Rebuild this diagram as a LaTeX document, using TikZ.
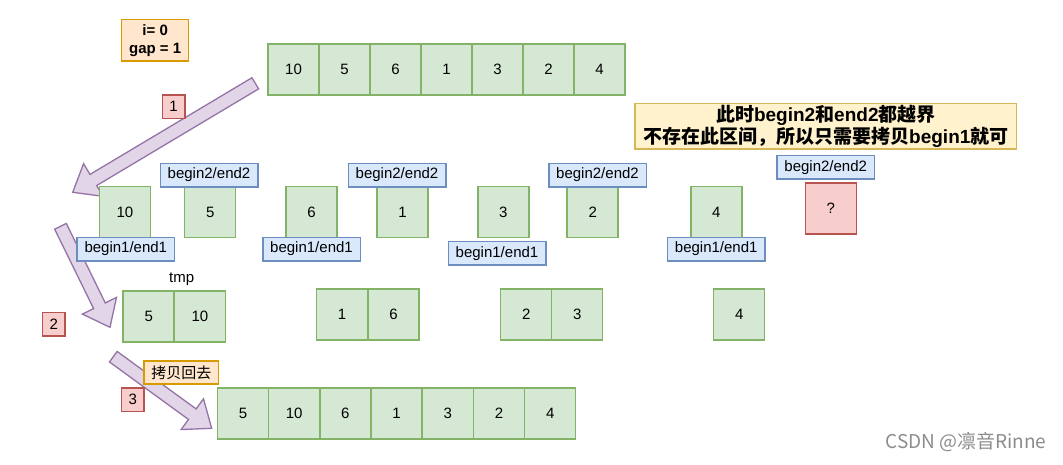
\documentclass[tikz,border=0pt]{standalone}
\usepackage{fontspec}
\setmainfont{Liberation Sans}
\newfontfamily\cjk{Noto Sans CJK SC}
\usetikzlibrary{calc}
\definecolor{gfill}{HTML}{D5E8D4}\definecolor{gline}{HTML}{82B366}
\definecolor{bfill}{HTML}{DAE8FC}\definecolor{bline}{HTML}{6C8EBF}
\definecolor{rfill}{HTML}{F8CECC}\definecolor{rline}{HTML}{B85450}
\definecolor{ofill}{HTML}{FFE6CC}\definecolor{oline}{HTML}{D79B00}
\definecolor{yfill}{HTML}{FFF2CC}\definecolor{yline}{HTML}{D6B656}
\definecolor{pfill}{HTML}{E1D5E7}\definecolor{pline}{HTML}{9673A6}
\tikzset{
  txt/.style={font=\fontsize{15}{18}\selectfont, text=black},
  cell/.style={txt, draw=gline, fill=gfill, line width=1.5pt, minimum width=51pt, minimum height=51pt, inner sep=0pt},
  lbl/.style={txt, draw=bline, fill=bfill, line width=1.5pt, minimum width=97.5pt, minimum height=23.5pt, inner sep=0pt},
  numtag/.style={txt, draw=rline, fill=rfill, line width=1.5pt, minimum width=22.5pt, minimum height=23.5pt, inner sep=0pt},
  note/.style={txt, draw=oline, fill=ofill, line width=1.5pt, inner sep=0pt, align=center},
  qcell/.style={cell, draw=rline, fill=rfill},
  flexarrow/.style={draw=pline, fill=pfill, line width=1.3pt, line join=miter},
}
\newcommand\blkarrow[2]{%
  \coordinate (#2-base) at ($(#2)!24pt!(#1)$);
  \draw[flexarrow] ($(#1)!6.5pt!90:(#2)$) -- ($(#2-base)!6.5pt!90:(#2)$) -- ($(#2-base)!19pt!90:(#2)$) -- (#2) -- ($(#2-base)!19pt!-90:(#2)$) -- ($(#2-base)!6.5pt!-90:(#2)$) -- ($(#1)!6.5pt!-90:(#2)$) -- cycle;}
\begin{document}
\begin{tikzpicture}[x=1pt,y=-1pt]
\useasboundingbox (0,0) rectangle (1063,464);
% arrows
\coordinate (a1s) at (255.3,83.3); \coordinate (a1e) at (72.7,192.3);
\coordinate (a2s) at (60.5,226.3); \coordinate (a2e) at (110,327.3);
\coordinate (a3s) at (113.3,356.7); \coordinate (a3e) at (211.7,428.3);
\blkarrow{a1s}{a1e}
\blkarrow{a2s}{a2e}
\blkarrow{a3s}{a3e}
% top notes
\node[note, minimum width=67pt, minimum height=41.7pt, font=\fontsize{15}{18}\selectfont\bfseries] (info) at (155.2,40.2) {i= 0\\gap = 1};
\node[numtag] (s1) at (173.5,106.5) {1};
\node[numtag] (s2) at (53.8,324.2) {2};
\node[numtag] (s3) at (132.8,399.7) {3};
\node[note, minimum width=74.7pt, minimum height=23pt] (copyback) at (181.3,372.5) {\cjk 拷贝回去};
\node[note, draw=yline, fill=yfill, minimum width=381.7pt, minimum height=45.7pt, font=\fontsize{19}{22}\selectfont\bfseries] (remark) at (825.8,126.2)
  {{\cjk\bfseries 此时}begin2{\cjk\bfseries 和}end2{\cjk\bfseries 都越界}\\{\cjk\bfseries 不存在此区间，所以只需要拷贝}begin1{\cjk\bfseries 就可}};
% top array
\foreach \v [count=\i from 0] in {10,5,6,1,3,2,4}
  \node[cell] (t\i) at (293.5+51*\i,69.5) {\v};
% middle row
\node[cell] (m0) at (125,212) {10};
\node[cell] (m1) at (210.2,212) {5};
\node[cell] (m2) at (311.5,212) {6};
\node[cell] (m3) at (402.5,212) {1};
\node[cell] (m4) at (503.3,212) {3};
\node[cell] (m5) at (592.7,212) {2};
\node[cell] (m6) at (716.3,212) {4};
\node[qcell] (m7) at (830.8,208.3) {?};
\node[lbl] (e2a) at (209,175) {begin2/end2};
\node[lbl] (e2b) at (397,175) {begin2/end2};
\node[lbl] (e2c) at (597.5,175) {begin2/end2};
\node[lbl] (e2d) at (825.7,167.2) {begin2/end2};
\node[lbl] (e1a) at (125.8,249) {begin1/end1};
\node[lbl] (e1b) at (311.5,249) {begin1/end1};
\node[lbl] (e1c) at (497,253.3) {begin1/end1};
\node[lbl] (e1d) at (716.2,249) {begin1/end1};
% merged row
\node[txt] (tmp) at (181.7,279) {tmp};
\node[cell] (r0) at (148.7,316.7) {5};
\node[cell] (r1) at (199.9,316.7) {10};
\node[cell] (r2) at (342,314.3) {1};
\node[cell] (r3) at (393.5,314.3) {6};
\node[cell] (r4) at (526.2,314.3) {2};
\node[cell] (r5) at (577.2,314.3) {3};
\node[cell] (r6) at (739.2,314.3) {4};
% bottom array
\foreach \v [count=\i from 0] in {5,10,6,1,3,2,4}
  \node[cell] (b\i) at (243+51.2*\i,413.7) {\v};
% watermark
\node[font=\fontsize{19}{21}\selectfont\cjk, text=black!45] (wm) at (966,441.7) {CSDN @凛音Rinne};
\end{tikzpicture}
\end{document}
